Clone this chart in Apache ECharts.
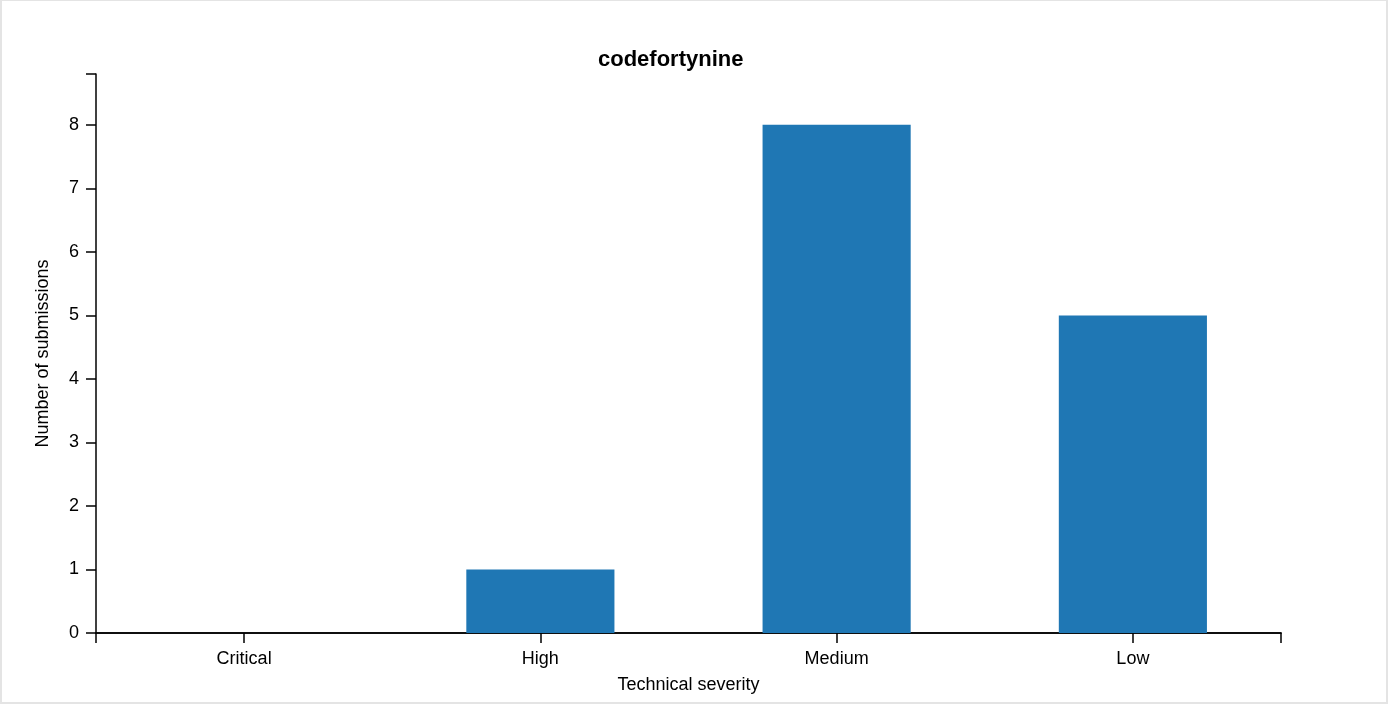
<!DOCTYPE html>
<html>
<head>
<meta charset="utf-8">
<script src="https://cdn.jsdelivr.net/npm/echarts@6/dist/echarts.min.js"></script>
<style>
html,body{margin:0;padding:0;background:#fff;}
#wrap{width:1388px;height:704px;box-sizing:border-box;border:2px solid #e4e4e4;border-top-width:1px;}
#chart{width:100%;height:100%;}
</style>
</head>
<body>
<div id="wrap"><div id="chart"></div></div>
<script>
var titleText = "codefortynine";
var categories = ["Critical", "High", "Medium", "Low"];
var submissions = [0, 1, 8, 5];
var xName = "Technical severity";
var yName = "Number of submissions";

var chart = echarts.init(document.getElementById('chart'));
var font = "Liberation Sans, Arial, sans-serif";
var axisLineStyle = {color: '#000', width: 1.5};
chart.setOption({
  animation: false,
  title: {
    text: titleText, left: 591, top: 43,
    textStyle: {fontFamily: font, fontSize: 22, fontWeight: 'bold', color: '#000'}
  },
  grid: {left: 94, right: 105, top: 73, bottom: 69},
  xAxis: [{
    type: 'category', data: categories,
    name: xName, nameLocation: 'middle', nameGap: 43,
    nameTextStyle: {fontFamily: font, fontSize: 18, color: '#000'},
    axisLine: {show: true, lineStyle: axisLineStyle},
    axisTick: {show: true, alignWithLabel: true, length: 10, lineStyle: axisLineStyle},
    axisLabel: {fontFamily: font, fontSize: 18, color: '#000', margin: 17},
    splitLine: {show: false}
  }, {
    type: 'value', min: 0, max: 4, interval: 4, position: 'bottom',
    axisLine: {show: true, lineStyle: axisLineStyle},
    axisTick: {show: true, length: 10, lineStyle: axisLineStyle},
    axisLabel: {show: false},
    splitLine: {show: false}
  }],
  yAxis: {
    type: 'value', min: 0, max: 8.8, interval: 1,
    name: yName, nameLocation: 'middle', nameGap: 44,
    nameTextStyle: {fontFamily: font, fontSize: 18, color: '#000'},
    axisLine: {show: true, lineStyle: axisLineStyle},
    axisTick: {show: true, length: 10, lineStyle: axisLineStyle},
    axisLabel: {fontFamily: font, fontSize: 18, color: '#000', margin: 17,
      formatter: function (v) { return Number.isInteger(v) ? String(v) : ''; }},
    splitLine: {show: false}
  },
  series: [{
    type: 'bar', data: submissions, xAxisIndex: 0,
    barWidth: '50%',
    itemStyle: {color: '#1f77b4'}
  }]
});
</script>
</body>
</html>
